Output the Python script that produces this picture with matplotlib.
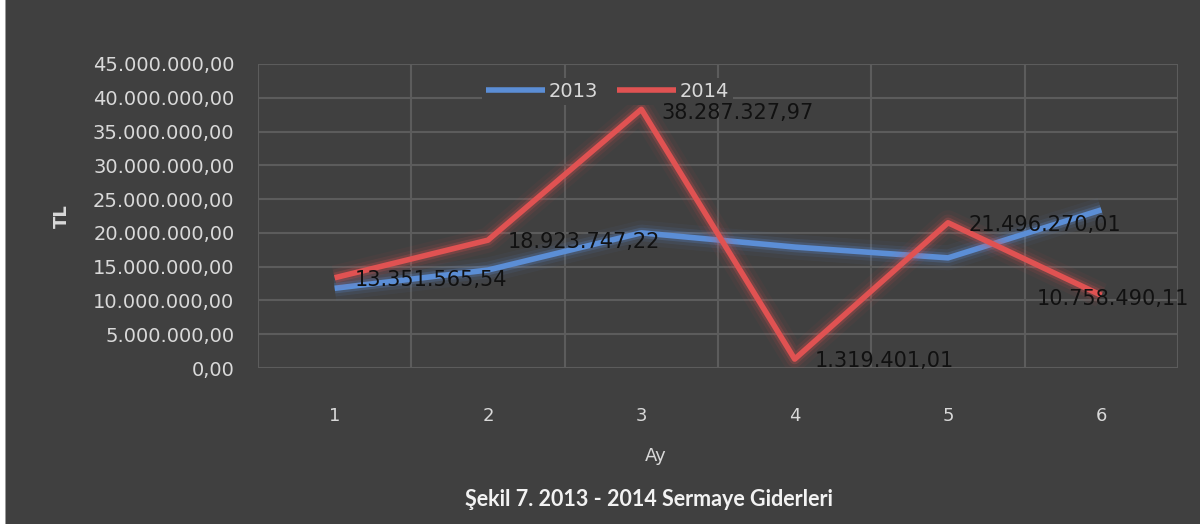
import matplotlib.pyplot as plt
import matplotlib.patheffects as pe
from matplotlib.patches import Rectangle
from matplotlib.ticker import FuncFormatter

# ── Data ─────────────────────────────────────────────────────────────────────
months = [1, 2, 3, 4, 5, 6]
y2013 = [11.8e6, 14.5e6, 20.0e6, 17.9e6, 16.3e6, 23.4e6]
y2014 = [13351565.54, 18923747.22, 38287327.97, 1319401.01, 21496270.01, 10758490.11]
labels2014 = ["13.351.565,54", "18.923.747,22", "38.287.327,97",
              "1.319.401,01", "21.496.270,01", "10.758.490,11"]

BG = "#404040"
GRID = "#5c5c5c"
TXT = "#d9d9d9"
BLUE = "#5b8ed6"
RED = "#e05252"

plt.rcParams["font.family"] = ["DejaVu Sans"]

fig = plt.figure(figsize=(12, 5.24), dpi=100, facecolor=BG)
ax = fig.add_axes([0.215, 0.2977, 0.7667, 0.5803])
ax.set_facecolor(BG)

# left white frame strip
fig.patches.append(Rectangle((0, 0), 0.004, 1, transform=fig.transFigure,
                             facecolor="white", edgecolor="none"))
fig.patches.append(Rectangle((0.004, 0), 0.0012, 1, transform=fig.transFigure,
                             facecolor="#9a9a9a", edgecolor="none"))


def glow(color):
    return [pe.Stroke(linewidth=18, foreground=color, alpha=0.05),
            pe.Stroke(linewidth=12, foreground=color, alpha=0.10),
            pe.Stroke(linewidth=7.5, foreground=color, alpha=0.22),
            pe.Normal()]


ax.plot(months, y2013, color=BLUE, linewidth=4, solid_capstyle="butt",
        path_effects=glow(BLUE), label="2013", zorder=3)
ax.plot(months, y2014, color=RED, linewidth=4, solid_capstyle="butt",
        path_effects=glow(RED), label="2014", zorder=4)

# data labels for 2014
for i, (m, v, s) in enumerate(zip(months, y2014, labels2014)):
    dx = -65 if i == 5 else 20
    dy = -4 if i in (2, 5) else -2
    ax.annotate(s, (m, v), xytext=(dx, dy), textcoords="offset pixels",
                ha="left", va="center", fontsize=15, color="#111111",
                zorder=6, annotation_clip=False)

ax.set_xlim(0.5, 6.5)
ax.set_ylim(0, 45e6)
ax.set_yticks([i * 5e6 for i in range(10)])
ax.set_xticks(months)
ax.set_xticks([0.5 + i for i in range(7)], minor=True)
ax.yaxis.set_major_formatter(FuncFormatter(
    lambda v, p: f"{v:,.2f}".replace(",", "X").replace(".", ",").replace("X", ".")))

ax.grid(axis="y", which="major", color=GRID, linewidth=1.5)
ax.grid(axis="x", which="minor", color=GRID, linewidth=1.5)
ax.set_axisbelow(True)
for sp in ax.spines.values():
    sp.set_visible(False)
ax.tick_params(axis="both", which="both", length=0, colors=TXT, labelsize=14)
ax.tick_params(axis="x", labelsize=13, pad=28)
ax.tick_params(axis="y", pad=17)

ax.set_xlabel("Ay", color=TXT, fontsize=13)
ax.xaxis.set_label_coords(0.432, -0.26)
ax.set_ylabel("TL", color=TXT, fontsize=13, fontweight="bold")
ax.yaxis.set_label_coords(-0.203, 0.5)

leg = ax.legend(loc="upper center", bbox_to_anchor=(0.38, 0.985), ncol=2,
                frameon=True, facecolor=BG, edgecolor="none", framealpha=1,
                fontsize=14, handlelength=3.0, handletextpad=0.2,
                columnspacing=1.0, borderpad=0.2, labelcolor=TXT)
for line in leg.get_lines():
    line.set_linewidth(4)
    line.set_path_effects([])
leg.set_zorder(5)

fig.text(0.541, 0.046, "Şekil 7. 2013 - 2014 Sermaye Giderleri", ha="center",
         va="center", fontsize=15.5, fontweight="bold", color="#f2f2f2",
         family=["Lato", "DejaVu Sans"])

fig.savefig("out.png", dpi=100, facecolor=BG)
